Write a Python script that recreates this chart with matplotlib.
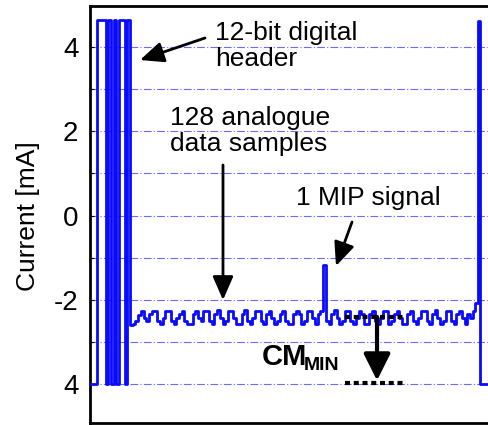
import matplotlib
matplotlib.use('Agg')
import matplotlib.pyplot as plt
import numpy as np

# ---------------- data ----------------
pre_level = -4.0
pre_start = -3.0
header_bits = [1, 1, 1, 0, 1, 0, 1, 0, 1, 1, 0, 1]
header_high = 4.65
header_low = -4.0
data_samples = [
    -2.60, -2.58, -2.50, -2.36, -2.27, -2.43, -2.50, -2.35,
    -2.27, -2.27, -2.50, -2.58, -2.43, -2.27, -2.27, -2.50,
    -2.58, -2.43, -2.35, -2.26, -2.50, -2.58, -2.58, -2.35,
    -2.27, -2.43, -2.50, -2.27, -2.27, -2.50, -2.58, -2.35,
    -2.25, -2.43, -2.58, -2.50, -2.27, -2.27, -2.43, -2.58,
    -2.58, -2.35, -2.25, -2.50, -2.58, -2.43, -2.27, -2.27,
    -2.50, -2.58, -2.35, -2.26, -2.43, -2.58, -2.50, -2.35,
    -2.27, -2.50, -2.58, -2.58, -2.35, -2.27, -2.35, -2.58,
    -2.50, -2.27, -2.27, -2.43, -2.58, -2.35, -2.27, -1.17,
    -2.50, -2.58, -2.35, -2.25, -2.43, -2.58, -2.50, -2.27,
    -2.27, -2.50, -2.58, -2.43, -2.27, -2.35, -2.58, -2.58,
    -2.35, -2.27, -2.50, -2.58, -2.43, -2.27, -2.27, -2.58,
    -2.50, -2.35, -2.26, -2.43, -2.58, -2.58, -2.35, -2.27,
    -2.50, -2.58, -2.43, -2.27, -2.27, -2.50, -2.58, -2.35,
    -2.25, -2.43, -2.58, -2.50, -2.27, -2.27, -2.50, -2.58,
    -2.35, -2.27, -2.43, -2.58, -2.35, -2.43, -2.27, -2.08,
]
trailer_times = [140.0, 140.7, 144.0]
trailer_values = [4.62, -4.0, -4.0]

cm_level = -2.41
cm_min_level = -3.97
cm_x_start = 91.0
cm_x_end = 113.0
cm_arrow_x = 102.8

yticks = [4, 2, 0, -2, -4]
yticklabels = ['4', '2', '0', '-2', '4']
ygrid_minor = [3, 1, -1, -3]

# ---------------- build series ----------------
times = [pre_start]
values = [pre_level]
for i, b in enumerate(header_bits):
    times.append(float(i))
    values.append(header_high if b else header_low)
n_header = len(header_bits)
for i, v in enumerate(data_samples):
    times.append(float(n_header + i))
    values.append(v)
times += trailer_times
values += trailer_values

# ---------------- figure ----------------
W, H = 488, 425
fig = plt.figure(figsize=(W / 100, H / 100), dpi=100)
plt.rcParams['font.family'] = ['Liberation Sans', 'DejaVu Sans']

def fp(x, y):
    return (x / W, 1 - y / H)

left_px, top_px, bottom_px = 89.5, 6, 423
ax = fig.add_axes([left_px / W, 1 - bottom_px / H, 1 - left_px / W,
                   (bottom_px - top_px) / H])

ax.step(times, values, where='post', color='#0a0aff', lw=2.0, zorder=3)

ax.set_xlim(-2.9, 143.6)
ax.set_ylim(-4.93, 4.98)

ax.set_yticks(yticks)
ax.set_yticklabels(yticklabels)
ax.set_yticks(ygrid_minor, minor=True)
ax.set_xticks([])
ax.tick_params(axis='y', which='both', direction='in', length=3, width=0.8,
               labelsize=20, pad=8)
ax.yaxis.grid(True, which='both', color='#6b6bff', lw=0.8,
              linestyle=(0, (7, 2, 1, 2)))
ax.set_axisbelow(True)

for s in ['left', 'top', 'bottom']:
    ax.spines[s].set_linewidth(2.0)
    ax.spines[s].set_color('black')
ax.spines['right'].set_visible(False)

ax.set_ylabel('Current [mA]', fontsize=19, va='center')
ax.yaxis.set_label_coords(28 / W, 1 - 216 / H, transform=fig.transFigure)

# ---------------- annotations ----------------
fs = 19
fig.text(*fp(215, 46), '12-bit digital\nheader', fontsize=fs, ha='left',
         va='center', linespacing=1.15)
fig.text(*fp(170, 131), '128 analogue\ndata samples', fontsize=fs, ha='left',
         va='center', linespacing=1.15)
fig.text(*fp(296, 198), '1 MIP signal', fontsize=fs, ha='left', va='center')
fig.text(*fp(262, 357), 'CM', fontsize=21, fontweight='bold', ha='left',
         va='center')
fig.text(*fp(304, 366), 'MIN', fontsize=14, fontweight='bold', ha='left',
         va='center')

arrow_kw = dict(arrowstyle='-|>,head_length=0.8,head_width=0.35',
                color='black', lw=2.0, shrinkA=0, shrinkB=0,
                mutation_scale=18)
ax.annotate('', xy=fp(140, 60), xycoords='figure fraction',
            xytext=fp(205, 38), textcoords='figure fraction',
            arrowprops=arrow_kw)
ax.annotate('', xy=fp(223, 300), xycoords='figure fraction',
            xytext=fp(223, 165), textcoords='figure fraction',
            arrowprops=arrow_kw)
ax.annotate('', xy=fp(336, 266), xycoords='figure fraction',
            xytext=fp(352, 222), textcoords='figure fraction',
            arrowprops=arrow_kw)

# CM lines and arrow
ax.plot([cm_x_start, cm_x_end], [cm_level, cm_level], color='black', lw=3,
        linestyle=(0, (1.2, 0.9)), zorder=4, dash_capstyle='butt')
ax.plot([cm_x_start, cm_x_end], [cm_min_level, cm_min_level], color='black',
        lw=3, linestyle=(0, (1.2, 0.9)), zorder=4, dash_capstyle='butt')
ax.annotate('', xy=(cm_arrow_x, cm_min_level + 0.05),
            xytext=(cm_arrow_x, cm_level),
            arrowprops=dict(arrowstyle='-|>,head_length=0.9,head_width=0.45',
                            color='black', lw=3.0, shrinkA=0, shrinkB=0,
                            mutation_scale=18), zorder=5)

fig.savefig('out.png', dpi=100)
